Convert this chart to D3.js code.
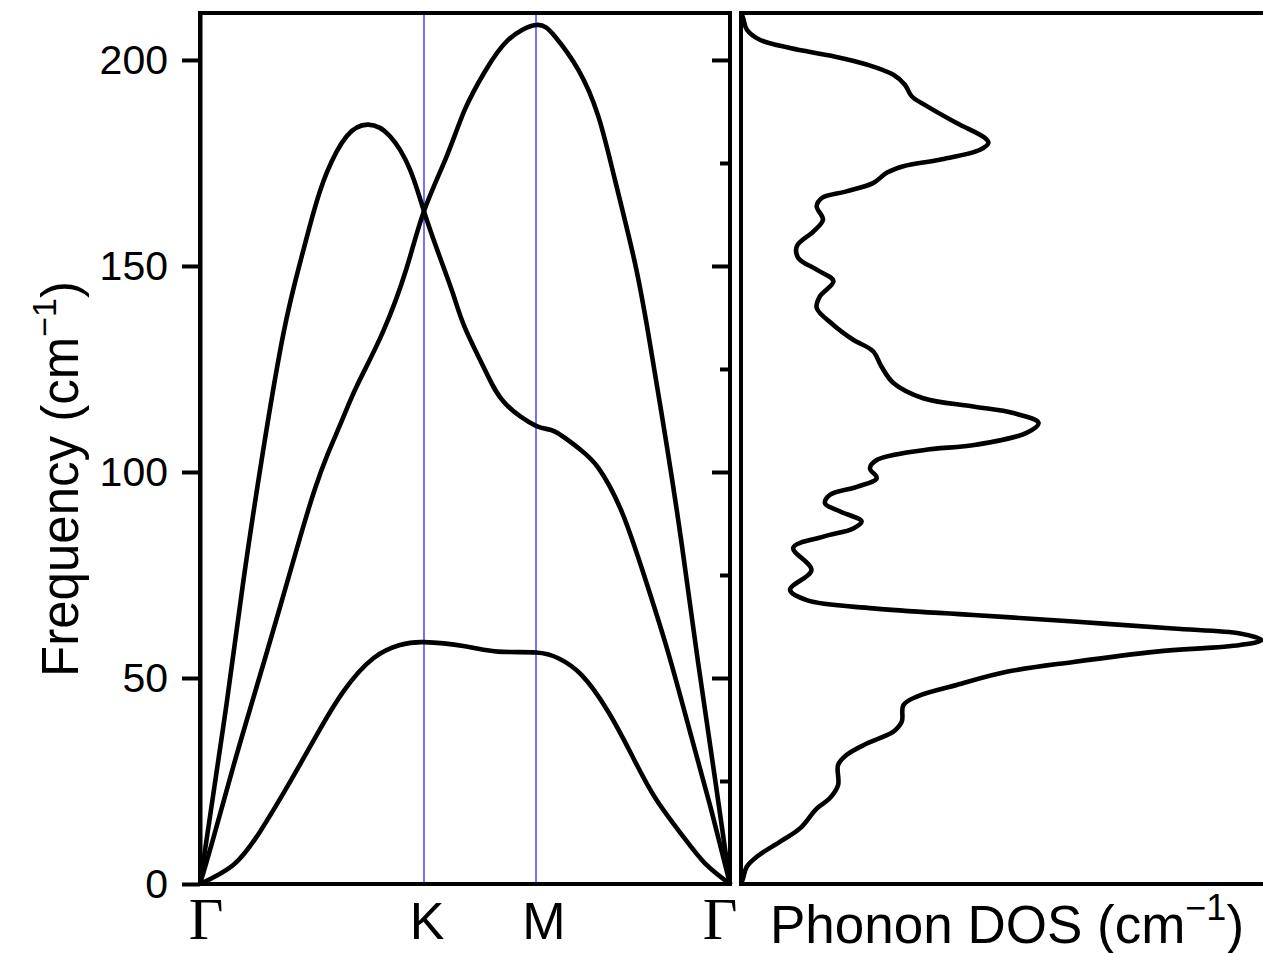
<!DOCTYPE html>
<html>
<head>
<meta charset="utf-8">
<script src="https://cdn.jsdelivr.net/npm/d3@7"></script>
<style>
  body { margin: 0; background: #fff; }
  svg { display: block; background: #fff; }
  text { font-family: "Liberation Sans", Arial, sans-serif; fill: #000; }
</style>
</head>
<body>
<svg id="chart"></svg>
<script>
// High-symmetry path (k distance) and labels
const pathTicks = [0, 1.3333, 2.0, 3.1547];
const pathLabels = ['Γ', 'K', 'M', 'Γ'];
const freqTicks = [0, 50, 100, 150, 200];
const freqMinorTicks = [25, 75, 125, 175];

// Branch 1 (lowest)
const branch1K = [0, 0.198, 0.357, 0.536, 0.695, 0.853, 1.032, 1.190, 1.333, 1.577, 1.776, 2.0, 2.133, 2.272, 2.430, 2.570, 2.708, 2.867, 3.006, 3.155];
const branch1F = [0, 4.6, 12.7, 24.8, 36.2, 46.7, 54.8, 58.0, 58.7, 57.7, 56.4, 56.2, 54.8, 50.7, 41.8, 31.3, 21.0, 12.0, 5.0, 0];

// Branch 2 (peak between Γ and K)
const branch2K = [0, 0.060, 0.159, 0.258, 0.375, 0.496, 0.595, 0.675, 0.754, 0.873, 1.002, 1.131, 1.250, 1.333, 1.429, 1.508, 1.577, 1.696, 1.815, 2.0, 2.113, 2.262, 2.371, 2.510, 2.649, 2.788, 2.927, 3.046, 3.155];
const branch2F = [0, 16.5, 44.0, 73.5, 105.0, 133.5, 150.7, 162.9, 172.6, 181.5, 184.3, 181.5, 173.4, 163.3, 152.0, 143.0, 135.0, 124.8, 116.7, 111.2, 109.8, 105.5, 101.0, 90.4, 74.2, 56.0, 35.4, 17.5, 0];

// Branch 3 (peak at M)
const branch3K = [0, 0.079, 0.198, 0.338, 0.457, 0.595, 0.685, 0.762, 0.845, 0.935, 1.089, 1.230, 1.333, 1.470, 1.577, 1.696, 1.833, 2.0, 2.113, 2.252, 2.371, 2.470, 2.589, 2.679, 2.780, 2.869, 2.964, 3.065, 3.155];
const branch3F = [0, 11.1, 28.5, 48.0, 64.5, 84.0, 96.0, 104.5, 112.5, 121.0, 134.0, 149.5, 163.3, 176.8, 188.0, 197.2, 204.8, 208.5, 205.7, 197.6, 186.3, 170.9, 150.7, 131.0, 106.0, 82.0, 54.0, 25.7, 0];

// Phonon DOS (arb. units) against frequency
const dosFreq = [0, 1.4, 4.2, 6.6, 10.3, 13.5, 18.3, 20.8, 24.0, 28.9, 31.3, 34.1, 37.0, 39.4, 43.4, 45.5, 48.3, 51.5, 53.9, 56.4, 58.0, 59.2, 60.8, 62.0, 63.7, 65.3, 66.9, 68.9, 71.4, 76.2, 81.6, 84.3, 86.3, 88.0, 90.4, 92.4, 94.4, 96.4, 98.5, 100.9, 102.9, 105.3, 106.6, 109.5, 111.9, 114.3, 115.9, 117.9, 121.6, 125.6, 129.3, 132.1, 135.7, 139.8, 142.6, 146.3, 149.1, 151.9, 154.8, 158.4, 161.2, 164.5, 166.5, 168.1, 170.1, 172.6, 174.2, 175.8, 178.2, 179.9, 181.1, 184.7, 188.8, 191.2, 194.0, 196.4, 198.9, 200.9, 202.9, 204.9, 207.4, 210.2, 211.4];
const dosValue = [0, 0.004, 0.011, 0.030, 0.075, 0.113, 0.145, 0.170, 0.186, 0.186, 0.202, 0.241, 0.292, 0.308, 0.311, 0.337, 0.413, 0.509, 0.637, 0.796, 0.956, 0.997, 0.956, 0.828, 0.637, 0.445, 0.253, 0.126, 0.094, 0.135, 0.100, 0.158, 0.215, 0.231, 0.190, 0.161, 0.170, 0.222, 0.260, 0.247, 0.260, 0.349, 0.450, 0.547, 0.570, 0.522, 0.445, 0.349, 0.292, 0.269, 0.253, 0.215, 0.177, 0.145, 0.151, 0.177, 0.145, 0.110, 0.107, 0.139, 0.157, 0.145, 0.155, 0.202, 0.253, 0.279, 0.311, 0.381, 0.458, 0.474, 0.467, 0.413, 0.356, 0.327, 0.314, 0.292, 0.241, 0.177, 0.094, 0.036, 0.011, 0.004, 0];

// Chart dimensions
const width = 1263;
const height = 953;
const bandLeft = 200, bandRight = 730;
const dosLeft = 741, dosRight = 1263;
const plotTop = 13, plotBottom = 884;
const frameWidth = 4;
const curveWidth = 4.6;

const svg = d3.select('#chart')
  .attr('width', width)
  .attr('height', height);

// Scales
const xScale = d3.scaleLinear().domain([0, 3.1547]).range([bandLeft, bandRight]);
const yScale = d3.scaleLinear().domain([0, 211.4]).range([plotBottom, plotTop]);
const dosScale = d3.scaleLinear().domain([0, 1]).range([dosLeft, dosRight]);

// Blue lines at K and M
svg.selectAll('.sym-line')
  .data(pathTicks.slice(1, 3))
  .enter()
  .append('line')
  .attr('class', 'sym-line')
  .attr('x1', d => xScale(d))
  .attr('x2', d => xScale(d))
  .attr('y1', plotTop)
  .attr('y2', plotBottom)
  .attr('stroke', '#0000ff')
  .attr('stroke-width', 1.1);

// Dispersion branches
const branches = [
  branch1K.map((k, i) => [k, branch1F[i]]),
  branch2K.map((k, i) => [k, branch2F[i]]),
  branch3K.map((k, i) => [k, branch3F[i]])
];

const bandLine = d3.line()
  .x(d => xScale(d[0]))
  .y(d => yScale(d[1]))
  .curve(d3.curveNatural);

svg.selectAll('.branch')
  .data(branches)
  .enter()
  .append('path')
  .attr('class', 'branch')
  .attr('d', bandLine)
  .attr('fill', 'none')
  .attr('stroke', '#000')
  .attr('stroke-width', curveWidth)
  .attr('stroke-linejoin', 'round');

// DOS curve
const dosPoints = dosFreq.map((f, i) => [dosValue[i], f]);
const dosLine = d3.line()
  .x(d => dosScale(d[0]))
  .y(d => yScale(d[1]))
  .curve(d3.curveCatmullRom.alpha(0.5));

svg.append('path')
  .datum(dosPoints)
  .attr('d', dosLine)
  .attr('fill', 'none')
  .attr('stroke', '#000')
  .attr('stroke-width', curveWidth)
  .attr('stroke-linejoin', 'round');

// Frames
svg.append('rect')
  .attr('x', bandLeft)
  .attr('y', plotTop)
  .attr('width', bandRight - bandLeft)
  .attr('height', plotBottom - plotTop)
  .attr('fill', 'none')
  .attr('stroke', '#000')
  .attr('stroke-width', frameWidth);

svg.append('rect')
  .attr('x', dosLeft)
  .attr('y', plotTop)
  .attr('width', dosRight - dosLeft + 20)
  .attr('height', plotBottom - plotTop)
  .attr('fill', 'none')
  .attr('stroke', '#000')
  .attr('stroke-width', frameWidth);

// Left axis with labels
const yAxis = d3.axisLeft(yScale)
  .tickValues(freqTicks)
  .tickSize(18)
  .tickPadding(14)
  .tickSizeOuter(0);

const yAxisG = svg.append('g')
  .attr('transform', `translate(${bandLeft},0)`)
  .call(yAxis);
yAxisG.select('.domain').attr('stroke-width', frameWidth);
yAxisG.selectAll('.tick line').attr('stroke-width', frameWidth);
yAxisG.selectAll('.tick text')
  .attr('font-size', 41)
  .attr('font-family', '"Liberation Sans", Arial, sans-serif')
  .attr('fill', '#000');

// Inward ticks on the right side of the band panel
const rightMajor = svg.append('g')
  .attr('transform', `translate(${bandRight},0)`)
  .call(d3.axisLeft(yScale).tickValues(freqTicks.slice(1)).tickSize(18).tickFormat('').tickSizeOuter(0));
const rightMinor = svg.append('g')
  .attr('transform', `translate(${bandRight},0)`)
  .call(d3.axisLeft(yScale).tickValues(freqMinorTicks).tickSize(10).tickFormat('').tickSizeOuter(0));
[rightMajor, rightMinor].forEach(g => {
  g.select('.domain').remove();
  g.selectAll('.tick line').attr('stroke-width', frameWidth);
});

// Path labels
const labelShift = [6, 3, 8, -10];
svg.selectAll('.path-label')
  .data(pathLabels)
  .enter()
  .append('text')
  .attr('class', 'path-label')
  .attr('x', (d, i) => xScale(pathTicks[i]) + labelShift[i])
  .attr('y', 939)
  .attr('text-anchor', 'middle')
  .style('font-family', d => d === 'Γ' ? '"Liberation Serif", "Times New Roman", serif' : '"Liberation Sans", Arial, sans-serif')
  .attr('font-size', d => d === 'Γ' ? 60 : 52)
  .text(d => d);

// DOS axis title
const dosTitle = svg.append('text')
  .attr('x', 770)
  .attr('y', 943)
  .attr('font-size', 53);
dosTitle.append('tspan').text('Phonon DOS (cm');
dosTitle.append('tspan').attr('font-size', 36).attr('dy', -23).text('−1');
dosTitle.append('tspan').attr('dy', 23).text(')');

// Y axis title
const yTitle = svg.append('text')
  .attr('transform', 'translate(78,479) rotate(-90)')
  .attr('text-anchor', 'middle')
  .attr('font-size', 51);
yTitle.append('tspan').text('Frequency (cm');
yTitle.append('tspan').attr('font-size', 34).attr('dy', -22).text('−1');
yTitle.append('tspan').attr('dy', 22).text(')');
</script>
</body>
</html>
